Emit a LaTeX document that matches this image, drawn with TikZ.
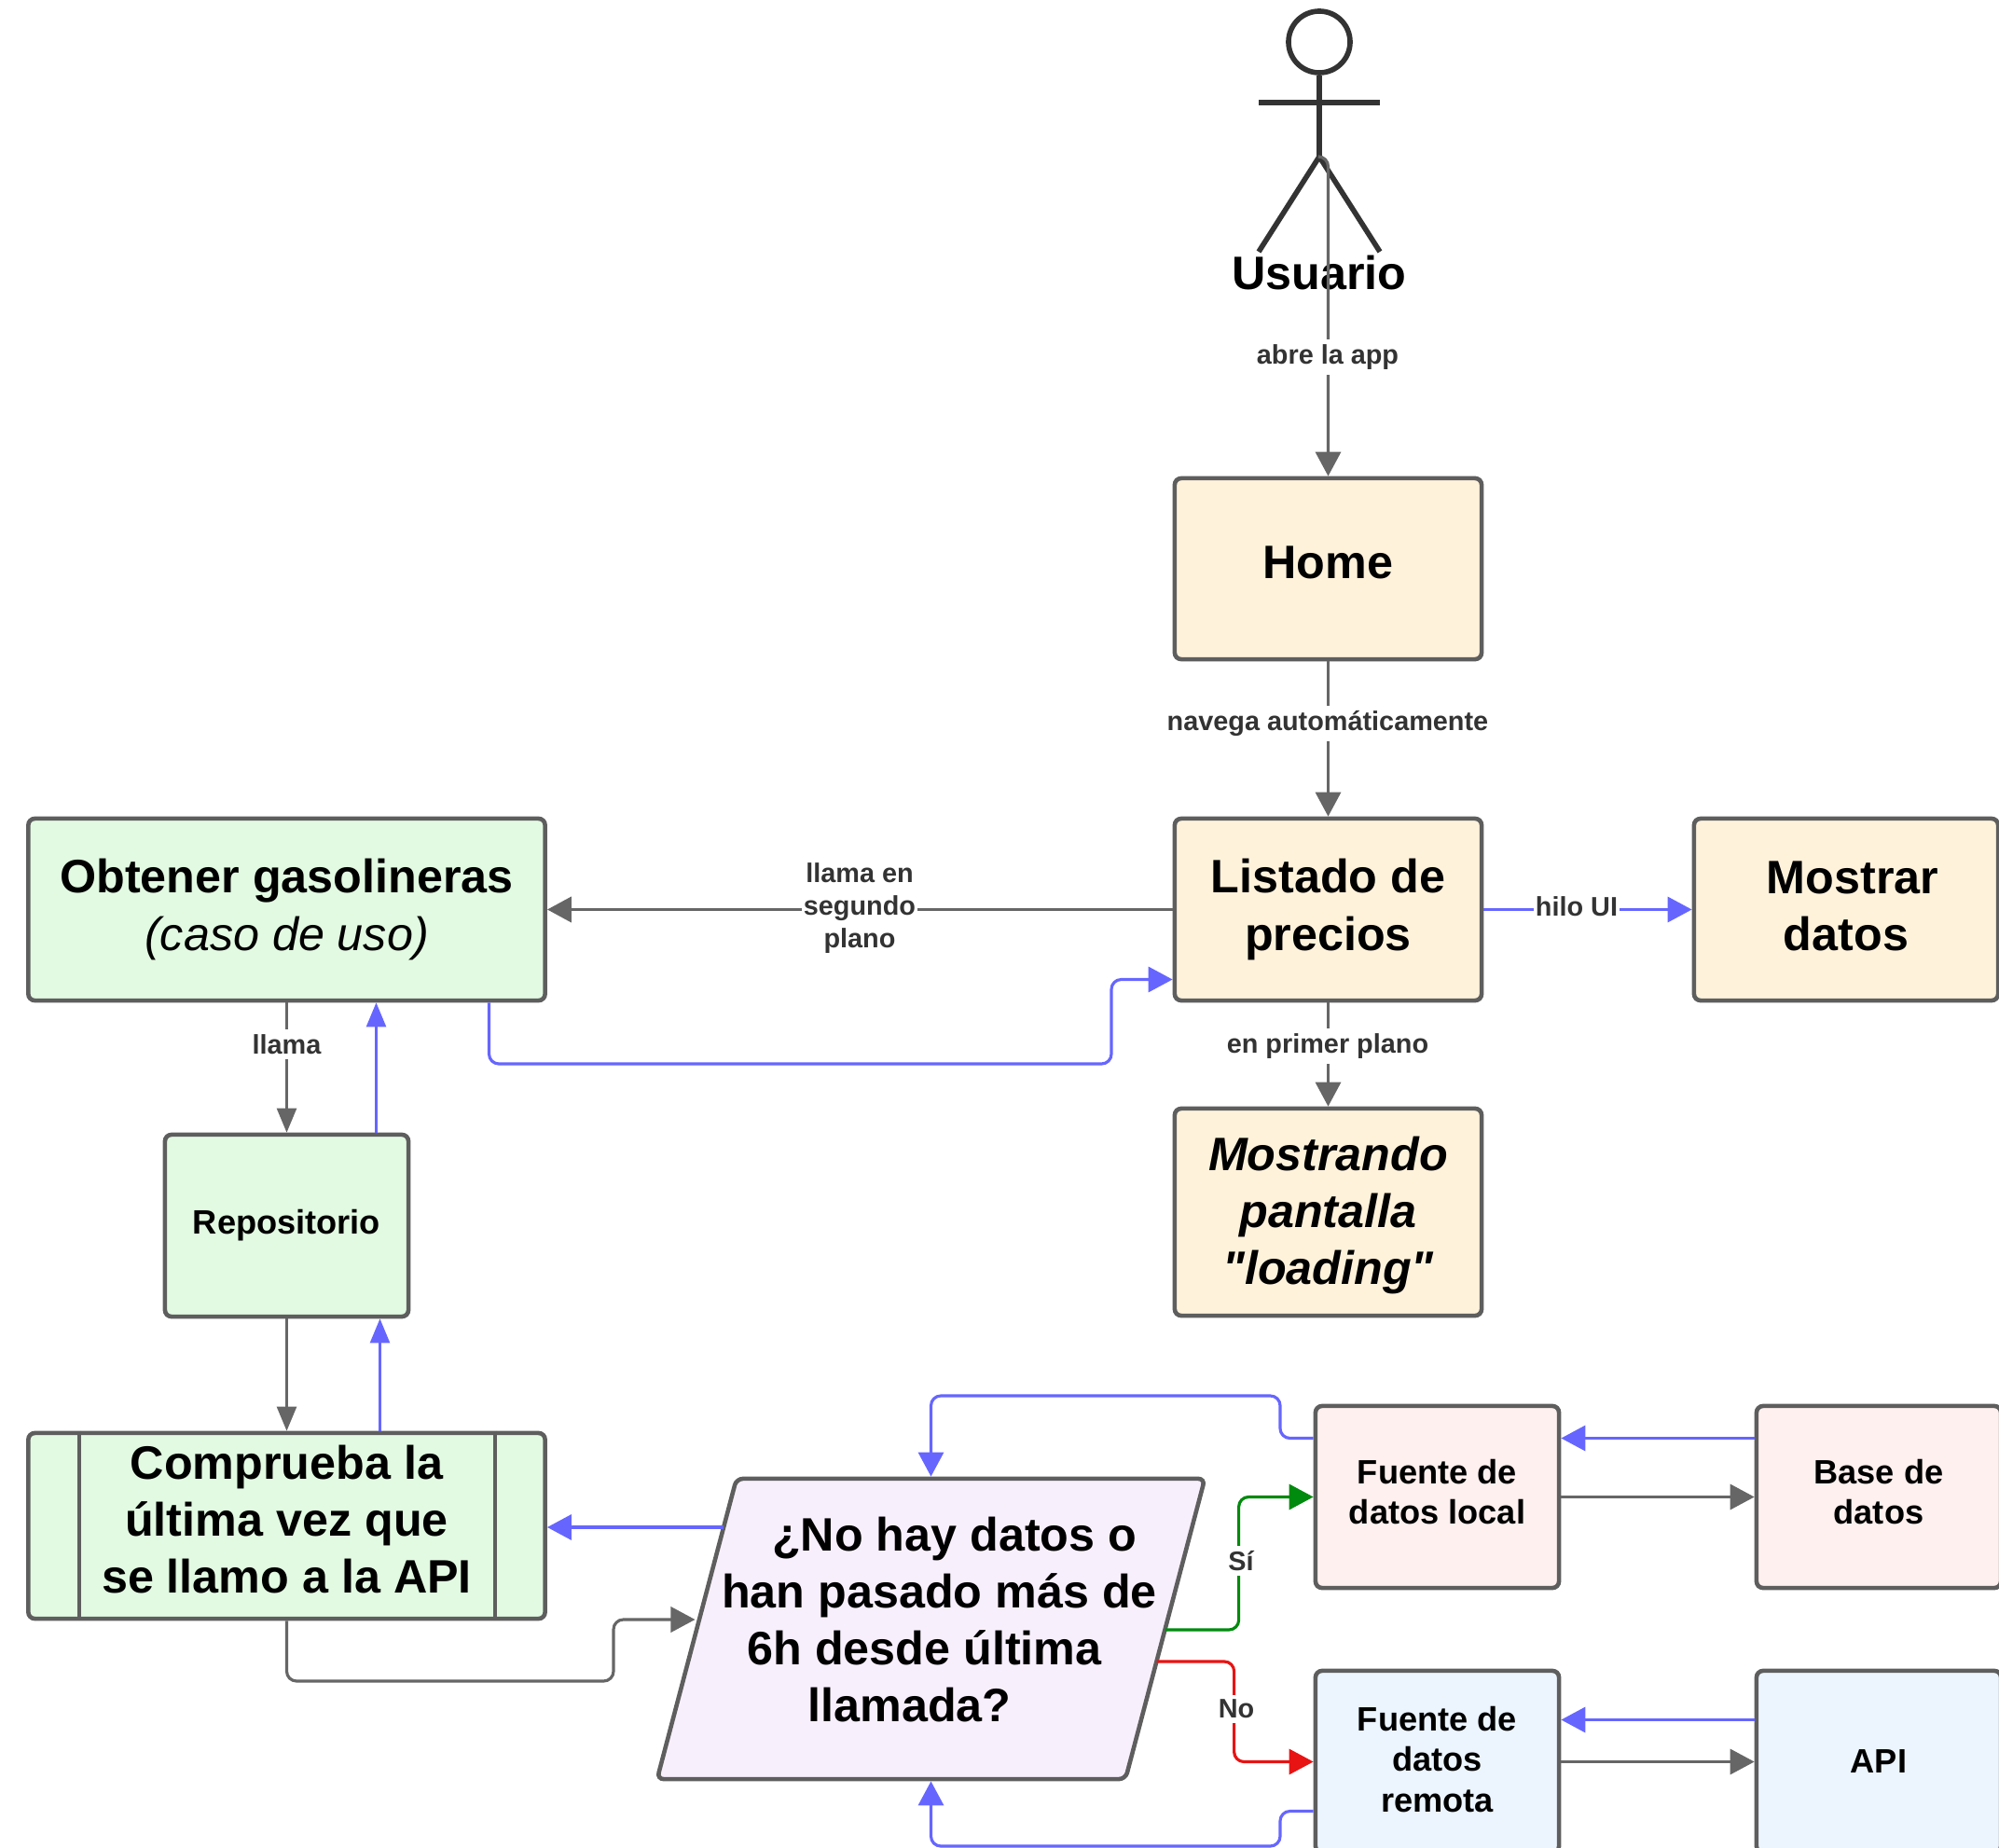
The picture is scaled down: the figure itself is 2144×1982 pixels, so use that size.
\documentclass[tikz,border=0pt]{standalone}
\usepackage{fontspec}
\setmainfont{Liberation Sans}[Ligatures=TeXOff]
\usetikzlibrary{arrows.meta,calc,shapes.geometric}
\definecolor{gris}{HTML}{666666}
\definecolor{borde}{HTML}{5E5E5E}
\definecolor{azul}{HTML}{6666FF}
\definecolor{verde}{HTML}{008A0E}
\definecolor{rojo}{HTML}{E81313}
\definecolor{crema}{HTML}{FFF2DB}
\definecolor{menta}{HTML}{E2F9E2}
\definecolor{rosa}{HTML}{FDF0EE}
\definecolor{cielo}{HTML}{ECF4FE}
\definecolor{lila}{HTML}{F8EFFD}
\newcommand{\subir}[1]{\rule[-#1]{0pt}{#1}}
\begin{document}
\begin{tikzpicture}[x=0.01cm,y=-0.01cm]
\tikzstyle{caja}=[draw=borde,line width=1.3pt,rounded corners=2pt,align=center,inner sep=0pt,text=black]
\tikzstyle{grande}=[caja,font=\fontsize{14.3}{17.4}\selectfont\bfseries]
\tikzstyle{media}=[caja,font=\fontsize{10.3}{12.3}\selectfont\bfseries]
\tikzstyle{etiqueta}=[fill=white,align=center,inner xsep=0.5pt,inner ysep=1.5pt,text=black!80,font=\fontsize{8.2}{10}\selectfont\bfseries]
\tikzstyle{gline}=[draw=gris,line width=0.9pt,-{Triangle[length=7.4pt,width=7.7pt]}]
\tikzstyle{bline}=[gline,draw=azul]
\tikzstyle{fina}=[line width=0.65pt,-{Triangle[length=7.4pt,width=6pt]}]
\tikzstyle{actor}=[draw=black!80,line width=1.6pt]
\useasboundingbox (0,0) rectangle (2144,1982);
\node[actor,circle,minimum size=0.66cm,inner sep=0pt] (G_cabeza) at (1415,45) {};
\coordinate (G_cadera) at (1415,168);
\draw[actor] (G_cabeza.south) -- (G_cadera);
\draw[actor] ($(G_cadera)+(-65,-58)$) -- ($(G_cadera)+(65,-58)$);
\draw[actor] ($(G_cadera)+(-65,102)$) -- (G_cadera) -- ($(G_cadera)+(65,102)$);
\node[font=\fontsize{14.3}{17}\selectfont\bfseries,inner sep=0pt] (G_usuario) at (1415,293) {Usuario};
\node[grande,fill=crema,minimum width=3.29cm,minimum height=1.94cm] (G_home) at (1424.5,610) {Home\subir{4pt}};
\node[grande,fill=crema,minimum width=3.29cm,minimum height=1.95cm] (G_listado) at (1424.5,975.5) {Listado de\\precios};
\node[grande,fill=crema,minimum width=3.26cm,minimum height=1.95cm] (G_mostrar) at (1980,975.5) {\hspace*{4pt}Mostrar\\datos\subir{2.3pt}};
\node[grande,fill=crema,minimum width=3.29cm,minimum height=2.22cm] (G_pantalla) at (1424.5,1300) {\rule{0pt}{12.3pt}\itshape Mostrando\\\itshape pantalla\\\itshape "loading"};
\node[grande,fill=menta,minimum width=5.54cm,minimum height=1.95cm] (G_obtener) at (307.5,975.5) {Obtener gasolineras\\\normalfont\fontsize{14.3}{17.4}\selectfont\itshape (caso de uso)};
\node[media,fill=menta,minimum width=2.61cm,minimum height=1.95cm] (G_repo) at (307.5,1314.5) {Repositorio};
\node[grande,fill=menta,minimum width=5.54cm,minimum height=1.99cm] (G_comprueba) at (307.5,1636.5) {Comprueba la\\última vez que\\se llamo a la API\subir{4pt}};
\draw[caja] ($(G_comprueba.north west)+(57,0)$) -- ($(G_comprueba.south west)+(57,0)$);
\draw[caja] ($(G_comprueba.north east)+(-56,0)$) -- ($(G_comprueba.south east)+(-56,0)$);
\node[caja,fill=lila,trapezium,trapezium left angle=75.2,trapezium right angle=104.8,inner xsep=2.085cm,inner ysep=1.61cm] (G_cond) at (998.5,1747) {};
\node[font=\fontsize{14.3}{17.4}\selectfont\bfseries,align=center,inner sep=0pt] (G_condtexto) at (999.5,1737) {\hspace*{13.7pt}¿No hay datos o\\\hspace*{4.6pt}han pasado más de\\6h desde última\kern4.6pt\\llamada?\hspace*{13.7pt}};
\node[media,fill=rosa,minimum width=2.61cm,minimum height=1.95cm] (G_local) at (1541.5,1605.5) {Fuente de\\datos local\subir{3pt}};
\node[media,fill=rosa,minimum width=2.62cm,minimum height=1.95cm] (G_base) at (2015,1605.5) {Base de\\datos\subir{3pt}};
\node[media,fill=cielo,minimum width=2.61cm,minimum height=1.95cm] (G_remota) at (1541.5,1889.5) {Fuente de\\datos\\remota\subir{1.6pt}};
\node[media,fill=cielo,minimum width=2.62cm,minimum height=1.95cm] (G_api) at (2015,1889.5) {API};
\draw[gline,rounded corners=3pt] (G_cadera) -| (G_home.north);
\draw[gline] (G_home.south) -- (G_listado.north);
\draw[gline,line width=1.1pt] (G_listado.west) -- (G_obtener.east);
\draw[bline] (G_listado.east) -- (G_mostrar.west);
\draw[gline] (G_listado.south) -- (G_pantalla.north);
\draw[bline,rounded corners=3pt] ($(G_obtener.south)+(217,0)$) |- (1192,1141) |- ($(G_listado.west)+(0,75)$);
\draw[gline,fina] (G_obtener.south) -- (G_repo.north);
\draw[bline,fina] ($(G_repo.north)+(96,0)$) -- ($(G_obtener.south)+(96,0)$);
\draw[gline,fina] (G_repo.south) -- (G_comprueba.north);
\draw[bline,fina] ($(G_comprueba.north)+(100,0)$) -- ($(G_repo.south)+(100,0)$);
\draw[bline] ($(G_cond.center)+(-223,-109)$) -- ($(G_comprueba.east)+(0,1.5)$);
\draw[gline,rounded corners=3pt] (G_comprueba.south) |- (658,1803) |- ($(G_cond.center)+(-253,-10)$);
\draw[bline,rounded corners=3pt] ($(G_local.west)+(0,-63)$) -| (1373,1497) -| (G_cond.north);
\draw[bline,rounded corners=3pt] ($(G_remota.west)+(0,53)$) -| (1373,1980) -| (G_cond.south);
\draw[gline,draw=verde,rounded corners=3pt] ($(G_cond.center)+(251,1)$) -| ($(G_local.west)+(-80,0)$) -- (G_local.west);
\draw[gline,draw=rojo,rounded corners=3pt] ($(G_cond.center)+(242,35)$) -| ($(G_remota.west)+(-85,0)$) -- (G_remota.west);
\draw[bline] ($(G_base.west)+(0,-63)$) -- ($(G_local.east)+(0,-63)$);
\draw[gline] (G_local.east) -- (G_base.west);
\draw[bline] ($(G_api.west)+(0,-45)$) -- ($(G_remota.east)+(0,-45)$);
\draw[gline] (G_remota.east) -- (G_api.west);
\node[etiqueta] (L_abre) at (1424,383) {abre la app};
\node[etiqueta] (L_navega) at (1424,776) {navega automáticamente};
\node[etiqueta] (L_segundo) at (922,974) {llama en\\segundo\\plano};
\node[etiqueta] (L_hilo) at (1691,972) {hilo UI};
\node[etiqueta] (L_primer) at (1424,1122) {en primer plano};
\node[etiqueta] (L_llama) at (307.5,1120) {llama};
\node[etiqueta] (L_si) at (1331,1674) {Sí};
\node[etiqueta] (L_no) at (1326,1833) {No};
\end{tikzpicture}
\end{document}
